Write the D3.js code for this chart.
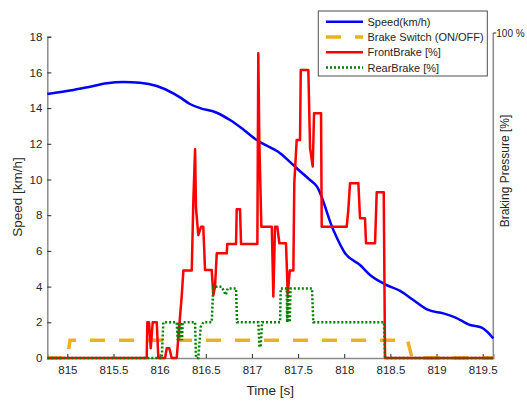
<html>
<head>
<meta charset="utf-8">
<script src="https://cdn.jsdelivr.net/npm/d3@7/dist/d3.min.js"></script>
<style>
  body { margin: 0; background: #fff; }
  text { font-family: "Liberation Sans", Arial, sans-serif; fill: #262626; }
</style>
</head>
<body>
<div id="chart"></div>
<script>
// speed curve (km/h) against time (s)
var speedT = [814.783, 815.065, 815.246, 815.427, 815.607, 815.788, 815.969, 816.148, 816.221, 816.329,
  816.438, 816.619, 816.763, 816.907, 817.052, 817.305, 817.485, 817.63, 817.702, 817.882,
  818.009, 818.171, 818.28, 818.442, 818.605, 818.749, 818.911, 819.074, 819.2, 819.363, 819.49, 819.615];
var speedV = [14.79, 15.01, 15.2, 15.39, 15.46, 15.42, 15.24, 14.83, 14.6, 14.23,
  14.0, 13.74, 13.33, 12.8, 12.21, 11.47, 10.63, 9.97, 9.62, 7.17,
  5.87, 5.21, 4.65, 4.13, 3.76, 3.25, 2.69, 2.5, 2.28, 1.85, 1.7, 1.1];

// brake switch ON/OFF (plotted on speed axis as 0/1)
var switchT = [814.783, 815.0, 815.03, 818.686, 818.735, 819.615];
var switchV = [0, 0, 1, 1, 0, 0];

// front brake pressure [%]
var frontT = [814.783, 815.860, 815.867, 815.885, 815.904, 815.925, 815.969, 815.986, 816.059, 816.077,
  816.105, 816.131, 816.185, 816.221, 816.239, 816.257, 816.348, 816.365, 816.384, 816.394,
  816.419, 816.449, 816.473, 816.492, 816.564, 816.582, 816.6, 816.619, 816.727, 816.733,
  816.828, 816.835, 816.871, 816.882, 817.059, 817.069, 817.08, 817.102, 817.215, 817.232,
  817.25, 817.275, 817.297, 817.369, 817.388, 817.41, 817.449, 817.459, 817.485, 817.521,
  817.529, 817.611, 817.63, 817.659, 817.673, 817.749, 817.756, 818.027, 818.044, 818.063,
  818.153, 818.171, 818.225, 818.236, 818.334, 818.352, 818.428, 818.442, 819.615];
var frontP = [0, 0, 11.0, 11.0, 3.0, 11.0, 11.0, 0, 0, 3.0,
  3.0, 0, 0, 12.7, 18.9, 26.9, 26.9, 48.1, 64.2, 46.1,
  37.8, 40.4, 40.4, 27.1, 27.1, 19.4, 21.9, 32.2, 32.2, 35.1,
  35.1, 45.8, 45.8, 35.1, 35.1, 93.8, 67.1, 40.4, 40.4, 18.9,
  40.4, 40.4, 35.3, 35.3, 19.7, 26.9, 26.9, 53.8, 67.1, 67.1,
  88.6, 88.6, 64.5, 58.9, 75.3, 75.3, 40.4, 40.4, 45.5, 53.8,
  53.8, 43.0, 43.0, 35.3, 35.3, 51.0, 51.0, 0, 0];

// rear brake pressure [%]
var rearT = [814.783, 816.023, 816.04, 816.185, 816.196, 816.21, 816.221, 816.232, 816.243, 816.25,
  816.384, 816.394, 816.419, 816.445, 816.473, 816.564, 816.582, 816.673, 816.716, 816.738,
  816.828, 816.839, 817.069, 817.082, 817.094, 817.11, 817.305, 817.312, 817.377, 817.382,
  817.389, 817.396, 817.404, 817.41, 817.418, 817.651, 817.665, 818.431, 818.442, 819.615];
var rearP = [0, 0, 11, 11, 5.5, 11, 5.5, 11, 5.5, 11,
  11, 0, 0, 9.6, 11, 11, 21.9, 21.9, 19.4, 21.4,
  21.4, 11, 11, 3.4, 3.4, 11, 11, 21.4, 21.4, 11,
  21.4, 11, 21.4, 11, 21.4, 21.4, 11, 11, 0, 0];

var timeTicks = [815, 815.5, 816, 816.5, 817, 817.5, 818, 818.5, 819, 819.5];
var speedTicks = [0, 2, 4, 6, 8, 10, 12, 14, 16, 18];
var legendNames = ["Speed(km/h)", "Brake Switch (ON/OFF)", "FrontBrake [%]", "RearBrake [%]"];

var W = 527, H = 401;
var L = 47.3, R = 493.3, T = 36.7, B = 358;

var svg = d3.select("#chart").append("svg").attr("width", W).attr("height", H);

var x = d3.scaleLinear().domain([814.783, 819.615]).range([L, R]);
var y = d3.scaleLinear().domain([0, 18]).range([B, T]);
var yp = d3.scaleLinear().domain([0, 100]).range([B, 33]); // right axis, braking pressure

function zip(a, b) { return a.map(function (d, i) { return [d, b[i]]; }); }

var axisCol = "#8c8c8c";

// left axis
var gy = svg.append("g").attr("transform", "translate(" + L + ",0)")
  .call(d3.axisLeft(y).tickValues(speedTicks).tickSize(-4).tickPadding(5).tickFormat(d3.format("d")));
// bottom axis
var gx = svg.append("g").attr("transform", "translate(0," + B + ")")
  .call(d3.axisBottom(x).tickValues(timeTicks).tickSize(-4).tickPadding(8).tickFormat(function (d) { return d; }));
[gx, gy].forEach(function (g) {
  g.select(".domain").attr("stroke", axisCol).attr("stroke-width", 1.5);
  g.selectAll(".tick line").attr("stroke", "#262626");
  g.selectAll(".tick text").style("font-size", "11.5px").attr("fill", "#262626");
});

// right axis (braking pressure) only top tick
svg.append("line").attr("x1", R).attr("x2", R).attr("y1", yp(100)).attr("y2", B)
  .attr("stroke", axisCol).attr("stroke-width", 1.5);
svg.append("line").attr("x1", R).attr("x2", R + 3).attr("y1", yp(100)).attr("y2", yp(100))
  .attr("stroke", "#262626");
svg.append("text").attr("x", R + 3).attr("y", yp(100) + 3.5).style("font-size", "10px").text("100 %");

// axis titles
svg.append("text").attr("x", (L + R) / 2).attr("y", 395).attr("text-anchor", "middle")
  .style("font-size", "13.5px").text("Time [s]");
svg.append("text").attr("transform", "translate(22,197) rotate(-90)").attr("text-anchor", "middle")
  .style("font-size", "13.5px").text("Speed [km/h]");
svg.append("text").attr("transform", "translate(509,171) rotate(-90)").attr("text-anchor", "middle")
  .style("font-size", "12px").text("Braking Pressure [%]");

var lineS = d3.line().x(function (d) { return x(d[0]); }).y(function (d) { return y(d[1]); });
var lineP = d3.line().x(function (d) { return x(d[0]); }).y(function (d) { return yp(d[1]); });

svg.append("path").datum(zip(speedT, speedV))
  .attr("d", lineS.curve(d3.curveMonotoneX)).attr("fill", "none")
  .attr("stroke", "#0000ff").attr("stroke-width", 2.5);
svg.append("path").datum(zip(switchT, switchV))
  .attr("d", d3.line().x(function (d) { return x(d[0]); }).y(function (d) { return y(d[1]); })(zip(switchT, switchV)))
  .attr("fill", "none").attr("stroke", "#edb120").attr("stroke-width", 3.5)
  .attr("stroke-dasharray", "15,14");
svg.append("path").datum(zip(frontT, frontP))
  .attr("d", lineP).attr("fill", "none")
  .attr("stroke", "#ff0000").attr("stroke-width", 2.5).attr("stroke-linejoin", "round");
svg.append("path").datum(zip(rearT, rearP))
  .attr("d", lineP).attr("fill", "none")
  .attr("stroke", "#008000").attr("stroke-width", 2.5).attr("stroke-dasharray", "2,2");

// legend
var lg = svg.append("g");
lg.append("rect").attr("x", 318.3).attr("y", 11).attr("width", 169).attr("height", 65)
  .attr("fill", "#fff").attr("stroke", "#4d4d4d").attr("stroke-width", 1);
var styles = [
  { c: "#0000ff", w: 2.5, d: null },
  { c: "#edb120", w: 3.5, d: "15,14" },
  { c: "#ff0000", w: 2.5, d: null },
  { c: "#008000", w: 2.5, d: "2,2" }
];
legendNames.forEach(function (n, i) {
  var yy = 21.7 + i * 15.3;
  lg.append("line").attr("x1", 326).attr("x2", 363).attr("y1", yy).attr("y2", yy)
    .attr("stroke", styles[i].c).attr("stroke-width", styles[i].w)
    .attr("stroke-dasharray", styles[i].d);
  lg.append("text").attr("x", 367.5).attr("y", yy + 4).style("font-size", "11px").text(n);
});
</script>
</body>
</html>
